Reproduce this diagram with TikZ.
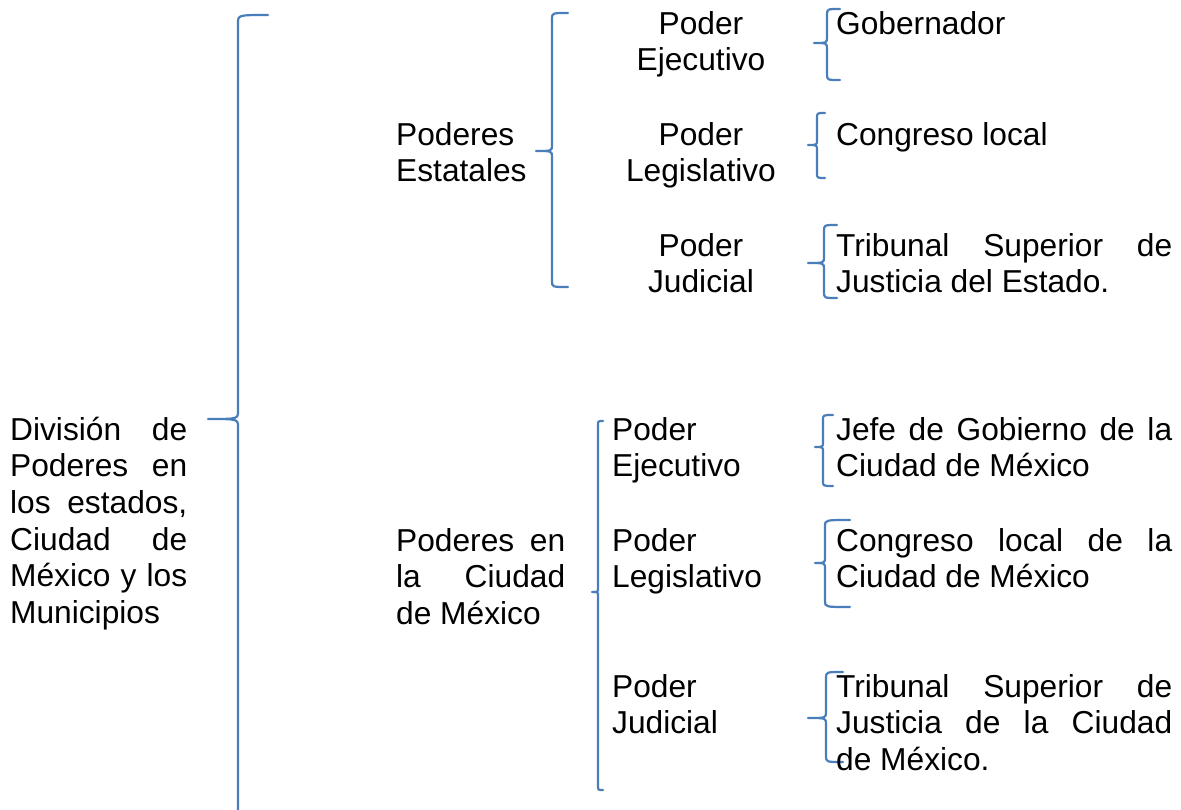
\documentclass[tikz,border=0pt]{standalone}
\usepackage{fontspec}
\setmainfont{Liberation Sans}
\definecolor{bracecol}{HTML}{4A7EBB}
\tikzset{
  txt/.style={font=\fontsize{31.7}{36.7}\selectfont, inner sep=0pt, text=black},
  lefttxt/.style={txt, align=left, anchor=base west},
  centtxt/.style={txt, align=center, anchor=base},
  bracestyle/.style={draw=bracecol, line width=2.2pt, line cap=round, line join=round}
}
% #1 xline, #2 ytop, #3 ybottom, #4 xtip, #5 ytip, #6 xend, #7 radius
\newcommand\mybrace[7]{%
  \draw[bracestyle] (#6,#2) .. controls (#1,#2) .. (#1,#2+#7) -- (#1,#5-#7)
    .. controls (#1,#5) .. (#4,#5) .. controls (#1,#5) .. (#1,#5+#7)
    -- (#1,#3-#7) .. controls (#1,#3) .. (#6,#3);}
\newcommand\jl[2]{\makebox[#1pt][s]{#2}}
\begin{document}
\begin{tikzpicture}[x=1pt, y=-1pt]
\clip (0,0) rectangle (1181,809);
\fill[white] (0,0) rectangle (1181,809);

% braces
\mybrace{238}{15}{818}{208}{419}{268}{8}
\mybrace{552}{13}{287}{536}{151}{568}{6}
\mybrace{827}{9}{80}{814}{43}{840}{6}
\mybrace{817}{113}{178}{808}{145}{825}{5}
\mybrace{824}{225}{298}{808}{263}{837}{6}
\mybrace{598}{421}{790}{592}{592}{603}{4}
\mybrace{823}{415}{486}{815}{447}{833}{5}
\mybrace{825}{520}{607}{815}{563}{850}{6}
\mybrace{826}{672}{762}{808}{718}{843}{6}

% texts (anchored at the baseline of the last line)
\node[lefttxt] (division) at (10,623.5) {\jl{177}{División de}\\\jl{177}{Poderes en}\\\jl{177}{los estados,}\\\jl{177}{Ciudad de}\\\jl{177}{México y los}\\Municipios};

\node[lefttxt] (estatales) at (396,181.7) {Poderes\\Estatales};
\node[centtxt] (ejec1) at (701,70.7) {Poder\\Ejecutivo};
\node[centtxt] (legis1) at (701,181.7) {Poder\\Legislativo};
\node[centtxt] (judic1) at (701,292.7) {Poder\\Judicial};
\node[lefttxt] (gober) at (836,34) {Gobernador};
\node[lefttxt] (congreso1) at (836,145) {Congreso local};
\node[lefttxt] (tribunal1) at (836,292.7) {\jl{336}{Tribunal Superior de}\\Justicia del Estado.};

\node[lefttxt] (cdmx) at (396,624.4) {\jl{169}{Poderes en}\\\jl{169}{la Ciudad}\\de México};
\node[lefttxt] (ejec2) at (612,476.7) {Poder\\Ejecutivo};
\node[lefttxt] (legis2) at (612,587.7) {Poder\\Legislativo};
\node[lefttxt] (judic2) at (612,733.7) {Poder\\Judicial};
\node[lefttxt] (jefe) at (836,476.7) {\jl{336}{Jefe de Gobierno de la}\\Ciudad de México};
\node[lefttxt] (congreso2) at (836,587.7) {\jl{336}{Congreso local de la}\\Ciudad de México};
\node[lefttxt] (tribunal2) at (836,770.4) {\jl{336}{Tribunal Superior de}\\\jl{336}{Justicia de la Ciudad}\\de México.};
\end{tikzpicture}
\end{document}
